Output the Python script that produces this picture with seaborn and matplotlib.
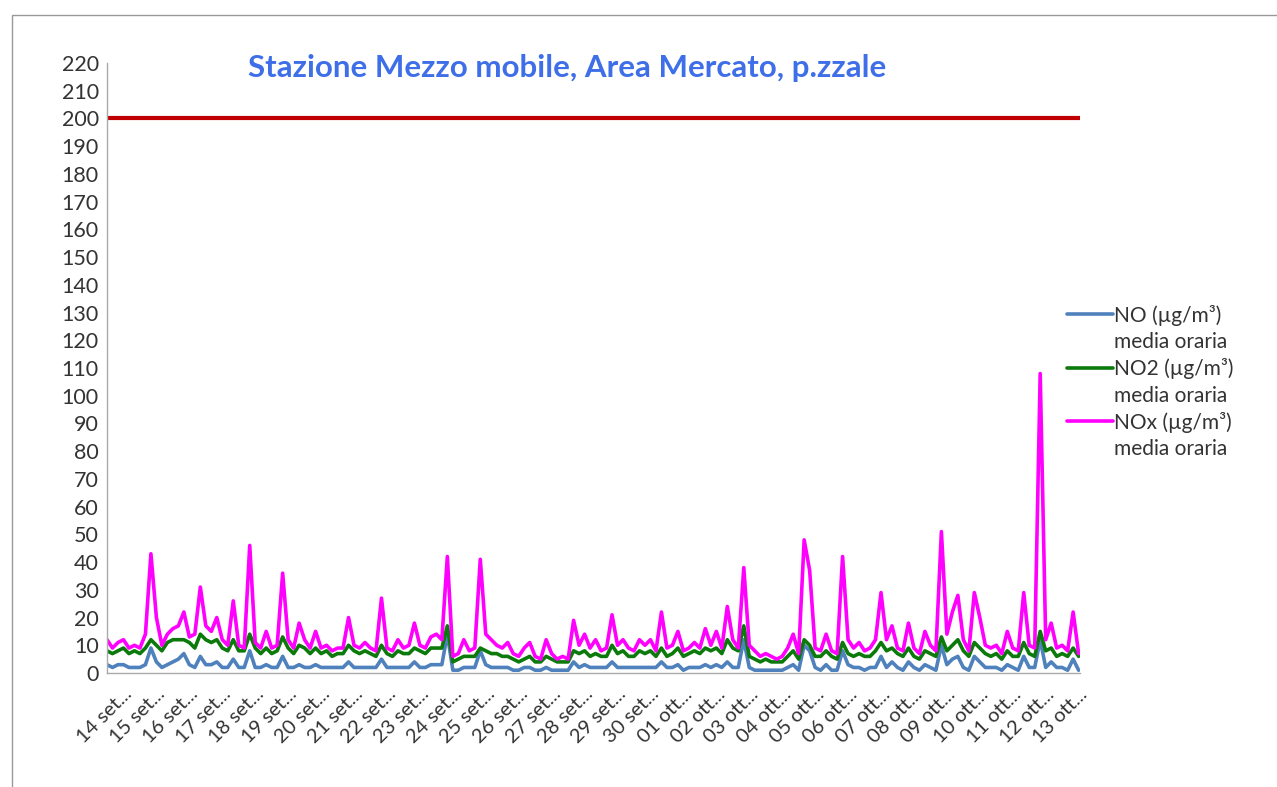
#!/usr/bin/python3

import matplotlib.pyplot as plt
from matplotlib.lines import Line2D
from matplotlib.patches import Rectangle
from matplotlib.ticker import MultipleLocator, FixedLocator
import pandas as pd
import seaborn as sns
import numpy as np


# day labels on the category axis (one every 24 hours)
day_labels = ['14 set...', '15 set...', '16 set...', '17 set...', '18 set...', '19 set...',
              '20 set...', '21 set...', '22 set...', '23 set...', '24 set...', '25 set...',
              '26 set...', '27 set...', '28 set...', '29 set...', '30 set...', '01 ott...',
              '02 ott...', '03 ott...', '04 ott...', '05 ott...', '06 ott...', '07 ott...',
              '08 ott...', '09 ott...', '10 ott...', '11 ott...', '12 ott...', '13 ott...']

# readings every 4 hours, starting 12 hours before the first label
step_hours = 4
start_hour = -12

nox = [12, 9, 11, 12, 9, 10,
       9, 14, 43, 20, 10, 14,
       16, 17, 22, 13, 14, 31,
       17, 15, 20, 12, 10, 26,
       10, 9, 46, 11, 9, 15,
       9, 10, 36, 12, 9, 18,
       12, 9, 15, 9, 10, 8,
       9, 9, 20, 10, 9, 11,
       9, 8, 27, 9, 8, 12,
       9, 10, 18, 10, 9, 13,
       14, 12, 42, 6, 7, 12,
       8, 9, 41, 14, 12, 10,
       9, 11, 7, 6, 9, 11,
       6, 5, 12, 7, 5, 6,
       5, 19, 10, 14, 9, 12,
       8, 9, 21, 10, 12, 9,
       8, 12, 10, 12, 8, 22,
       9, 10, 15, 8, 9, 11,
       9, 16, 10, 15, 9, 24,
       12, 9, 38, 10, 8, 6,
       7, 6, 5, 6, 9, 14,
       7, 48, 37, 9, 8, 14,
       8, 7, 42, 12, 9, 11,
       8, 9, 12, 29, 12, 17,
       9, 8, 18, 9, 7, 15,
       10, 8, 51, 14, 22, 28,
       12, 8, 29, 20, 10, 9,
       10, 7, 15, 9, 8, 29,
       10, 9, 108, 12, 18, 9,
       10, 8, 22, 7]

no2 = [8, 7, 8, 9, 7, 8,
       7, 9, 12, 10, 8, 11,
       12, 12, 12, 11, 9, 14,
       12, 11, 12, 9, 8, 12,
       8, 8, 14, 9, 7, 9,
       7, 8, 13, 9, 7, 10,
       9, 7, 9, 7, 8, 6,
       7, 7, 10, 8, 7, 8,
       7, 6, 10, 7, 6, 8,
       7, 7, 9, 8, 7, 9,
       9, 9, 17, 4, 5, 6,
       6, 6, 9, 8, 7, 7,
       6, 6, 5, 4, 5, 6,
       4, 4, 6, 5, 4, 4,
       4, 8, 7, 8, 6, 7,
       6, 6, 10, 7, 8, 6,
       6, 8, 7, 8, 6, 9,
       6, 7, 9, 6, 7, 8,
       7, 9, 8, 9, 7, 12,
       9, 8, 17, 6, 5, 4,
       5, 4, 4, 4, 6, 8,
       5, 12, 10, 6, 6, 8,
       6, 5, 11, 7, 6, 7,
       6, 6, 8, 11, 8, 9,
       7, 6, 9, 6, 5, 8,
       7, 6, 13, 8, 10, 12,
       8, 6, 11, 9, 7, 6,
       7, 5, 8, 6, 6, 11,
       7, 6, 15, 8, 9, 6,
       7, 6, 9, 6]

no = [3, 2, 3, 3, 2, 2,
      2, 3, 9, 4, 2, 3,
      4, 5, 7, 3, 2, 6,
      3, 3, 4, 2, 2, 5,
      2, 2, 8, 2, 2, 3,
      2, 2, 6, 2, 2, 3,
      2, 2, 3, 2, 2, 2,
      2, 2, 4, 2, 2, 2,
      2, 2, 5, 2, 2, 2,
      2, 2, 4, 2, 2, 3,
      3, 3, 14, 1, 1, 2,
      2, 2, 8, 3, 2, 2,
      2, 2, 1, 1, 2, 2,
      1, 1, 2, 1, 1, 1,
      1, 4, 2, 3, 2, 2,
      2, 2, 4, 2, 2, 2,
      2, 2, 2, 2, 2, 4,
      2, 2, 3, 1, 2, 2,
      2, 3, 2, 3, 2, 4,
      2, 2, 12, 2, 1, 1,
      1, 1, 1, 1, 2, 3,
      1, 10, 8, 2, 1, 3,
      1, 1, 8, 3, 2, 2,
      1, 2, 2, 6, 2, 4,
      2, 1, 4, 2, 1, 3,
      2, 1, 10, 3, 5, 6,
      2, 1, 6, 4, 2, 2,
      2, 1, 3, 2, 1, 6,
      2, 2, 12, 2, 4, 2,
      2, 1, 5, 1]

limit_value = 200

series_labels = ['NO (µg/m³)', 'NO2 (µg/m³)', 'NOx (µg/m³)']
series_colors = ['#4F81BD', '#0B7A0B', '#FF00FF']


def main():
	sns.set_style('white')
	plt.rcParams['font.family'] = ['Lato', 'DejaVu Sans']

	hours = start_hour + step_hours * np.arange(len(nox))
	df = pd.DataFrame({'hour': hours, 'NO': no, 'NO2': no2, 'NOx': nox})

	fig = plt.figure(figsize=(12.77, 7.87), dpi=100)
	ax = fig.add_axes([107 / 1277, 1 - 673 / 787, (1080 - 107) / 1277, (673 - 63) / 787])

	handles = []
	for col, lab, c in zip(['NO', 'NO2', 'NOx'], series_labels, series_colors):
		sns.lineplot(data=df, x='hour', y=col, color=c, linewidth=2.6, ax=ax)
		handles.append(Line2D([], [], color=c, linewidth=2.6))

	# limit line
	ax.axhline(limit_value, color='#C00000', linewidth=3)

	ax.set_xlim(start_hour, 24 * (len(day_labels) - 1) + 1)
	ax.set_ylim(0, 220)
	ax.yaxis.set_major_locator(MultipleLocator(10))
	ax.yaxis.set_minor_locator(MultipleLocator(2))
	ax.xaxis.set_major_locator(FixedLocator(24 * np.arange(len(day_labels))))
	ax.xaxis.set_minor_locator(FixedLocator(24 * np.arange(len(day_labels)) - 12))
	ax.set_xticklabels(day_labels, rotation=45, ha='right', rotation_mode='anchor')
	ax.tick_params(axis='y', which='both', direction='in', length=5, color='#999999',
	               labelsize=15.5, labelcolor='#333333', pad=6)
	ax.tick_params(axis='x', which='both', direction='out', length=6, color='#999999',
	               labelsize=14.5, labelcolor='#333333', pad=3)
	ax.set_xlabel('')
	ax.set_ylabel('')
	for s in ['top', 'right']:
		ax.spines[s].set_visible(False)
	for s in ['left', 'bottom']:
		ax.spines[s].set_color('#AAAAAA')
		ax.spines[s].set_linewidth(1)

	fig.text(567 / 1277, 1 - 68 / 787, 'Stazione Mezzo mobile, Area Mercato, p.zzale',
	         ha='center', va='center', fontsize=22.5, fontweight='bold', color='#3F6FE8')

	# legend: second text line of each entry without a handle
	blank = Line2D([], [], color='none')
	leg_handles = [handles[0], blank, handles[1], blank, handles[2], blank]
	leg_labels = [series_labels[0], 'media oraria', series_labels[1], 'media oraria',
	              series_labels[2], 'media oraria']
	fig.legend(leg_handles, leg_labels, loc='upper left', bbox_to_anchor=(1048 / 1277, 1 - 286 / 787),
	           frameon=False, fontsize=15, handlelength=2.2, handletextpad=0.05,
	           labelspacing=0.3, labelcolor='#333333')

	# outer chart-area border
	fig.patches.append(Rectangle((12 / 1277, -0.1), 2, 1.1 - 15 / 787, transform=fig.transFigure,
	                             fill=False, edgecolor='#999999', linewidth=1))

	plt.savefig('out.png', dpi=100)


if __name__ == '__main__':
	main()
